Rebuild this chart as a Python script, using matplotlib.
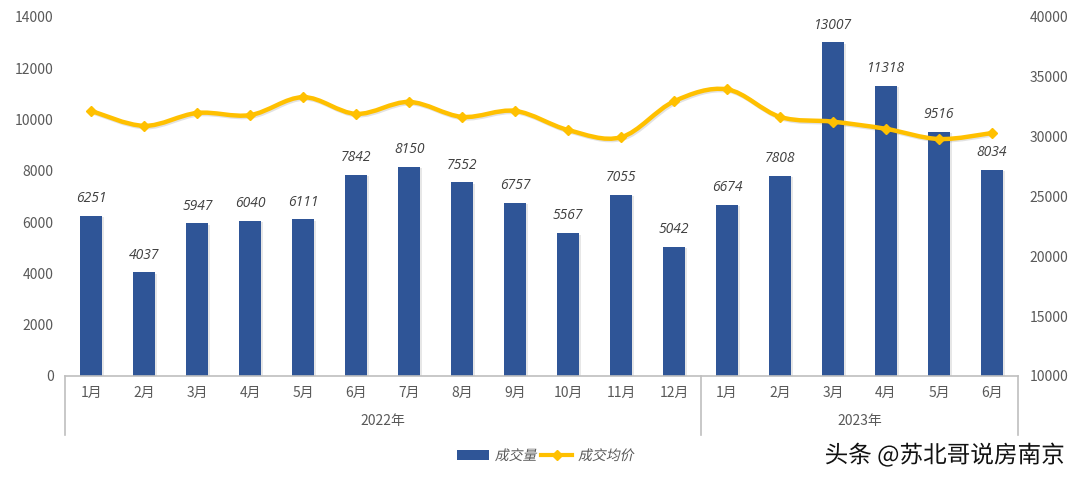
import matplotlib
matplotlib.use('Agg')
import matplotlib.pyplot as plt
import matplotlib.patheffects as pe
from matplotlib.path import Path
from matplotlib.patches import PathPatch, Patch
from matplotlib.lines import Line2D
from matplotlib.transforms import Affine2D
import numpy as np

plt.rcParams['font.family'] = ['Noto Sans CJK SC', 'DejaVu Sans']

# 数据
months = ['1月', '2月', '3月', '4月', '5月', '6月', '7月', '8月', '9月', '10月', '11月', '12月',
          '1月', '2月', '3月', '4月', '5月', '6月']
years = ['2022年', '2023年']
year_sizes = [12, 6]
volume = [6251, 4037, 5947, 6040, 6111, 7842, 8150, 7552, 6757, 5567, 7055, 5042,
          6674, 7808, 13007, 11318, 9516, 8034]
price = [32150, 30900, 31980, 31800, 33300, 31900, 32900, 31650, 32150, 30550, 29950, 32950,
         33950, 31650, 31250, 30650, 29800, 30300]

bar_color = '#2F5597'
line_color = '#FFC000'
text_color = '#595959'
axis_color = '#BFBFBF'


class Slant(pe.AbstractPathEffect):
    # 中文字体没有斜体, 用错切模拟
    def draw_path(self, renderer, gc, tpath, affine, rgbFace=None):
        renderer.draw_path(gc, tpath, Affine2D().skew_deg(12, 0) + affine, rgbFace)


fig = plt.figure(figsize=(10.8, 4.8), dpi=100)
ax = fig.add_axes([0.060, 0.2167, 0.883, 0.748])
ax2 = ax.twinx()

x = np.arange(len(months))

# 柱状图
shadow = [pe.SimplePatchShadow(offset=(1.5, -1), alpha=0.12, shadow_rgbFace='#404040'), pe.Normal()]
bars = ax.bar(x, volume, width=0.42, color=bar_color, zorder=2)
for b in bars:
    b.set_path_effects(shadow)
for xi, v in zip(x, volume):
    ax.annotate(str(v), (xi, v), xytext=(0, 7), textcoords='offset points',
                ha='center', va='bottom', fontsize=10, style='italic', color='#404040',
                family='Open Sans')

# 平滑折线 (Catmull-Rom -> Bezier)
pts = np.column_stack([x, price]).astype(float)
verts = [pts[0]]
codes = [Path.MOVETO]
n = len(pts)
for i in range(n - 1):
    p0 = pts[max(i - 1, 0)]
    p1 = pts[i]
    p2 = pts[i + 1]
    p3 = pts[min(i + 2, n - 1)]
    c1 = p1 + (p2 - p0) / 6
    c2 = p2 - (p3 - p1) / 6
    verts += [c1, c2, p2]
    codes += [Path.CURVE4] * 3
curve = PathPatch(Path(verts, codes), facecolor='none', edgecolor=line_color, lw=3.2,
                  capstyle='round', joinstyle='round', zorder=3)
curve.set_path_effects([pe.SimpleLineShadow(offset=(1, -1), alpha=0.15, shadow_color='#404040'),
                        pe.Normal()])
ax2.add_patch(curve)
ax2.plot(x, price, ls='none', marker='D', ms=5, color=line_color, zorder=4)

# 坐标轴
ax.set_xlim(-0.5, len(months) - 0.5)
ax.set_ylim(0, 14000)
ax.set_yticks(range(0, 14001, 2000))
ax2.set_ylim(10000, 40000)
ax2.set_yticks(range(10000, 40001, 5000))

for a in (ax, ax2):
    for s in a.spines.values():
        s.set_visible(False)
ax.spines['bottom'].set_visible(True)
ax.spines['bottom'].set_color(axis_color)
ax.spines['bottom'].set_linewidth(1.2)

ax.set_xticks(x)
ax.set_xticklabels(months)
ax.tick_params(axis='x', length=0, pad=7, labelsize=10, labelcolor=text_color)
ax.tick_params(axis='y', length=0, pad=8, labelsize=10, labelcolor=text_color)
ax2.tick_params(axis='y', length=0, pad=8, labelsize=10, labelcolor=text_color)

# 分组标签
trans = ax.get_xaxis_transform()
start = 0
bounds = [-0.5]
for name, size in zip(years, year_sizes):
    center = start + (size - 1) / 2
    ax.text(center, -0.125, name, transform=trans, ha='center', va='center',
            fontsize=10, color=text_color)
    start += size
    bounds.append(start - 0.5)
for bx in bounds:
    ax.plot([bx, bx], [0, -0.165], transform=trans, color=axis_color, lw=1.2, clip_on=False)

# 图例
handles = [Patch(facecolor=bar_color, edgecolor='none'),
           Line2D([], [], color=line_color, lw=3, marker='D', ms=5)]
leg = fig.legend(handles, ['成交量', '成交均价'], loc='center', bbox_to_anchor=(0.505, 0.05),
                 ncol=2, frameon=False, handlelength=2.3, handletextpad=0.4, columnspacing=0.3,
                 prop={'size': 10})
for t in leg.get_texts():
    t.set_color(text_color)
    t.set_path_effects([Slant()])

# 水印
fig.text(0.986, 0.052, '头条 @苏北哥说房南京', ha='right', va='center', fontsize=17, color='#111111',
         path_effects=[pe.withStroke(linewidth=2.5, foreground='white')])

fig.savefig('out.png', dpi=100, facecolor='white')
